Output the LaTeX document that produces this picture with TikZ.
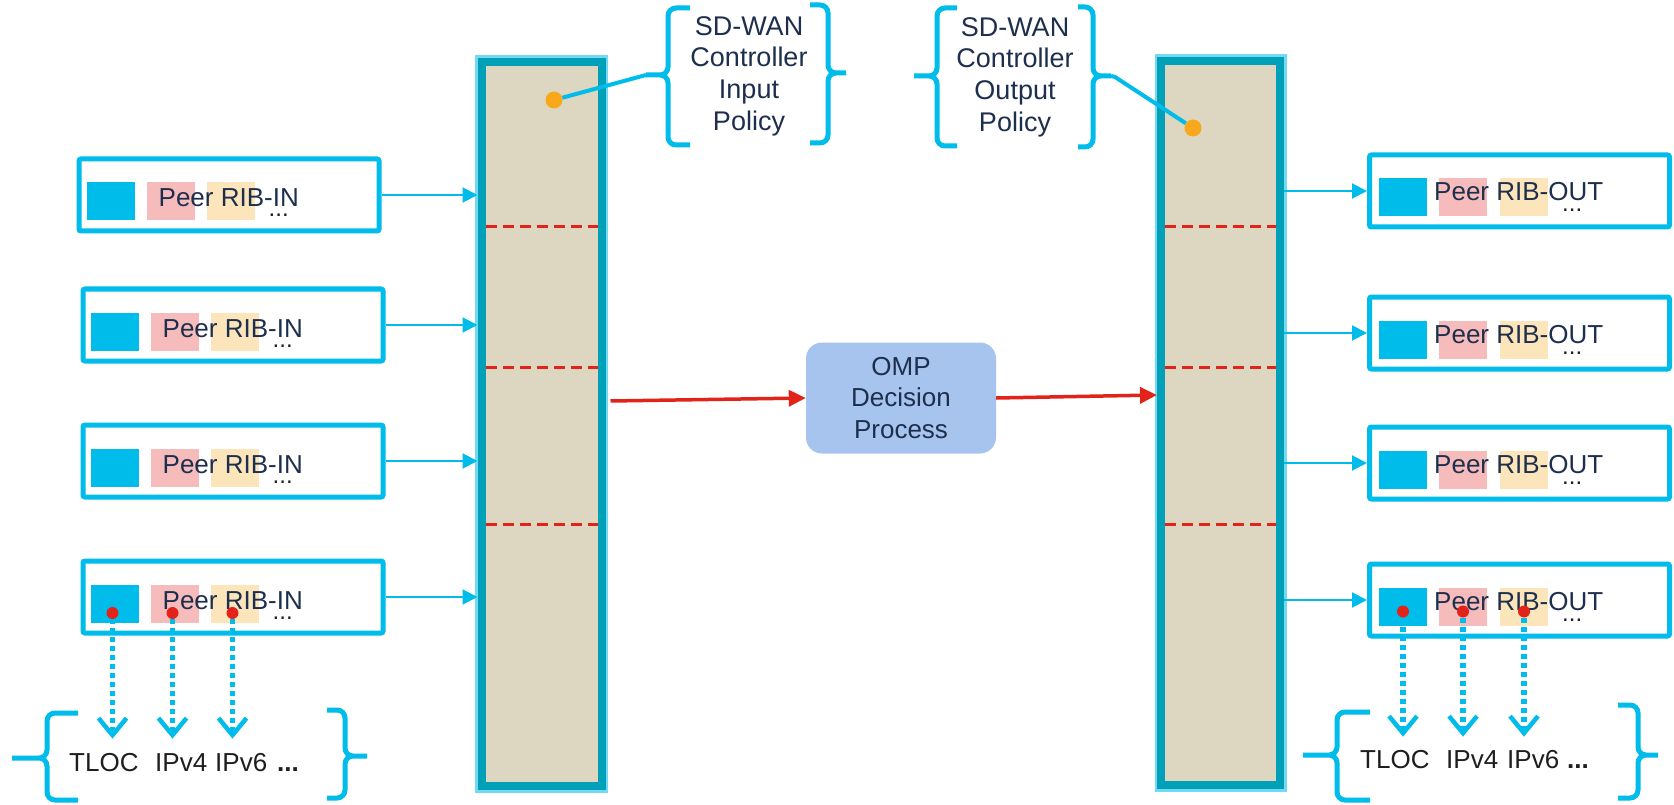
\documentclass[tikz,border=0pt]{standalone}
\usepackage{fontspec}
\setmainfont{Liberation Sans}
\usetikzlibrary{arrows.meta,calc}
\definecolor{ciscoblue}{HTML}{00BCEB}
\definecolor{tealedge}{HTML}{00A0B9}
\definecolor{ribtan}{HTML}{DDD6C1}
\definecolor{peerpink}{HTML}{F5BCBB}
\definecolor{ribyellow}{HTML}{FCE5BA}
\definecolor{ompred}{HTML}{E2231A}
\definecolor{knoborange}{HTML}{F9A81B}
\definecolor{ompfill}{HTML}{A7C4EE}
\definecolor{navy}{HTML}{1E2F4D}
\definecolor{inkgray}{HTML}{1E1E1E}

\begin{document}
\begin{tikzpicture}[x=1pt, y=-1pt,
  every node/.style={font=\fontsize{26}{31.5}\selectfont, text=navy, inner sep=0pt},
  ribbox/.style={draw=ciscoblue, line width=5pt, rounded corners=2pt, minimum width=300pt, minimum height=72pt},
  ribcol/.style={draw=tealedge, line width=8pt, fill=ribtan, minimum width=120pt, minimum height=724pt,
    preaction={draw=ciscoblue!55, line width=13pt}},
  tag/.style={minimum width=48pt, minimum height=38pt},
  feed/.style={draw=ciscoblue, line width=2pt, -{Triangle[length=15pt,width=15pt]}},
  flow/.style={draw=ompred, line width=3.5pt, -{Triangle[length=17pt,width=16pt]}},
  split/.style={draw=ompred, line width=3pt, dash pattern=on 11pt off 6pt},
  fetch/.style={draw=ciscoblue, line width=5.5pt, dash pattern=on 5pt off 4pt, -{Straight Barb[length=17pt,width=28pt,line width=4.5pt]}},
  bracket/.style={draw=ciscoblue, line width=5pt, rounded corners=8pt},
  link/.style={draw=ciscoblue, line width=4pt},
  pin/.style={circle, fill=ompred, minimum size=12pt},
  knob/.style={circle, fill=knoborange, minimum size=17pt},
  more/.style={anchor=base west, text=inkgray, font=\fontsize{24}{24}\selectfont},
  family/.style={anchor=base west, text=inkgray}]
  \useasboundingbox (0,0) rectangle (1674,805);

  % RIB columns
  \node[ribcol] (colL) at (541.5,424) {};
  \node[ribcol, minimum width=119pt] (colR) at (1220.5,423) {};
  \foreach \y in {227,367,524} {
    \draw[split] ($(colL.west |- 0,\y)+(8,0)$) -- ($(colL.east |- 0,\y)+(-8,0)$);
    \draw[split] ($(colR.west |- 0,\y)+(8,0)$) -- ($(colR.east |- 0,\y)+(-8,0)$);
  }

  % peer boxes, in and out
  \node[ribbox] (inA) at (229,195) {};
  \node[ribbox] (inB) at (233,325) {};
  \node[ribbox] (inC) at (233,461) {};
  \node[ribbox] (inD) at (233,597) {};
  \node[ribbox] (outA) at (1519.5,191) {};
  \node[ribbox] (outB) at (1519.5,333) {};
  \node[ribbox] (outC) at (1519.5,463) {};
  \node[ribbox] (outD) at (1519.5,600) {};

  \foreach \b in {inA,inB,inC,inD} {
    \node[tag, fill=ciscoblue] (\b-sq) at ($(\b.west)+(34,6.5)$) {};
    \node[tag, fill=peerpink] (\b-peer) at ($(\b.west)+(94,6.5)$) {};
    \node[tag, fill=ribyellow] (\b-rib) at ($(\b.west)+(154,6.5)$) {};
    \node[anchor=base west] (\b-txt) at ($(\b.west)+(82,12)$) {Peer RIB-IN};
    \node[more] (\b-more) at ($(\b.west)+(192,22)$) {...};
    \draw[feed] (\b.east) -- (\b.east -| colL.west);
  }
  \foreach \b in {outA,outB,outC,outD} {
    \node[tag, fill=ciscoblue] (\b-sq) at ($(\b.west)+(36,6.5)$) {};
    \node[tag, fill=peerpink] (\b-peer) at ($(\b.west)+(96,6.5)$) {};
    \node[tag, fill=ribyellow] (\b-rib) at ($(\b.west)+(157,6.5)$) {};
    \node[anchor=base west] (\b-txt) at ($(\b.west)+(67,10)$) {Peer RIB-OUT};
    \node[more] (\b-more) at ($(\b.west)+(195,21)$) {...};
    \draw[feed] (\b.west -| colR.east) -- (\b.west);
  }

  % decision process
  \node[fill=ompfill, rounded corners=16pt, minimum width=190pt, minimum height=111pt, align=center] (omp) at (901,398) {OMP\\Decision\\Process};
  \draw[flow] ($(colL.east)+(5,-23)$) -- (omp.west);
  \draw[flow] (omp.east) -- ($(colR.west)+(0,-28)$);

  % controller policies
  \node[align=center, font=\fontsize{27}{31.6}\selectfont] (inPolicy) at (749,76) {SD-WAN\\Controller\\Input\\Policy};
  \node[align=center, font=\fontsize{27}{31.6}\selectfont] (outPolicy) at (1015,77) {SD-WAN\\Controller\\Output\\Policy};
  \draw[bracket] (690,8) -| (668,75) -- (646,75) (690,145) -| (668,75) -- (646,75);
  \draw[bracket] (810,5) -| (828,73) -- (846,73) (810,143) -| (828,73) -- (846,73);
  \draw[bracket] (957,8) -| (937,76) -- (914,76) (957,146) -| (937,76) -- (914,76);
  \draw[bracket] (1078,7) -| (1093,76) -- (1111,76) (1078,147) -| (1093,76) -- (1111,76);
  \coordinate (inTip) at (646,75);
  \coordinate (outTip) at (1111,76);
  \node[knob] (inKnob) at (554,100) {};
  \node[knob] (outKnob) at (1193,128) {};
  \draw[link] (inKnob) -- (inTip);
  \draw[link] (outTip) -- ++(4,1) -- (outKnob);

  % route families
  \node[family] (tlocL) at (69,771) {TLOC};
  \node[family] (ipfourL) at (155,771) {IPv4};
  \node[family] (ipsixL) at (215,771) {IPv6};
  \node[family] (etcL) at (277,771) {\textbf{...}};
  \node[family] (tlocR) at (1360,768) {TLOC};
  \node[family] (ipfourR) at (1446,768) {IPv4};
  \node[family] (ipsixR) at (1507,768) {IPv6};
  \node[family] (etcR) at (1567,768) {\textbf{...}};
  \draw[bracket] (78,713) -| (47,758) -- (12,758) (78,800) -| (47,758) -- (12,758);
  \draw[bracket] (327,710) -| (345,756) -- (367,756) (327,798) -| (345,756) -- (367,756);
  \draw[bracket] (1370,712) -| (1337,755) -- (1303,755) (1370,800) -| (1337,755) -- (1303,755);
  \draw[bracket] (1618,705) -| (1638,755) -- (1658,755) (1618,798) -| (1638,755) -- (1658,755);

  \foreach \t in {sq,peer,rib} {
    \node[pin] (inD-\t-pin) at ($(inD-\t.center)+(-2,9.5)$) {};
    \draw[fetch] (inD-\t-pin.south) -- (inD-\t-pin.south |- tlocL.north) [shorten >=14pt];
    \node[pin] (outD-\t-pin) at ($(outD-\t.center)+(0,5)$) {};
    \draw[fetch] (outD-\t-pin.south) -- (outD-\t-pin.south |- tlocR.north) [shorten >=13pt];
  }
\end{tikzpicture}
\end{document}
